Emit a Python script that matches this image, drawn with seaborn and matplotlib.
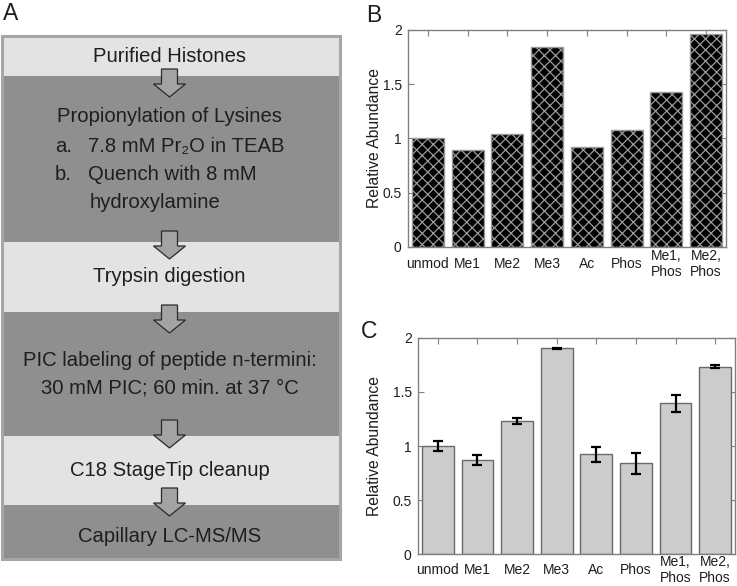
import numpy as np
import pandas as pd
import matplotlib
matplotlib.use("Agg")
import matplotlib.pyplot as plt
import seaborn as sns
from matplotlib.patches import Rectangle, Polygon

# ---------------- data ----------------
categories = ["unmod", "Me1", "Me2", "Me3", "Ac", "Phos", "Me1,\nPhos", "Me2,\nPhos"]
values_b = [1.00, 0.89, 1.04, 1.84, 0.92, 1.075, 1.425, 1.96]
values_c = [1.00, 0.868, 1.231, 1.902, 0.923, 0.840, 1.394, 1.732]
errors_c = [0.05, 0.048, 0.03, 0.006, 0.07, 0.095, 0.08, 0.012]
yticks = [0, 0.5, 1, 1.5, 2]
ytick_labels = ["0", "0.5", "1", "1.5", "2"]

flow_steps = ["Purified Histones", "Propionylation of Lysines", "Trypsin digestion",
              "PIC labeling of peptide n-termini:", "C18 StageTip cleanup", "Capillary LC-MS/MS"]

sns.set_style("ticks")
plt.rcParams["font.family"] = ["Liberation Sans", "DejaVu Sans"]
plt.rcParams["hatch.linewidth"] = 0.9

fig = plt.figure(figsize=(7.37, 5.86), dpi=100)

# ---------------- panel A (flowchart) ----------------
ax0 = fig.add_axes([0, 0, 1, 1])
ax0.set_xlim(0, 737)
ax0.set_ylim(586, 0)
ax0.axis("off")

LIGHT = "#e3e3e3"
DARK = "#8f8f8f"
band_edges = [36, 76, 242, 312, 436, 505, 559]
band_cols = [LIGHT, DARK, LIGHT, DARK, LIGHT, DARK]
arrow_tops = [69, 231, 305, 420, 488]
x0, x1 = 2, 340
for (t, b, c) in zip(band_edges[:-1], band_edges[1:], band_cols):
    ax0.add_patch(Rectangle((x0, t), x1 - x0, b - t, facecolor=c, edgecolor="none", zorder=1))
ax0.add_patch(Rectangle((x0, band_edges[0]), x1 - x0, band_edges[-1] - band_edges[0],
                        facecolor="none", edgecolor="#a6a6a6", lw=2.2, zorder=2))

cx = 169.5
for t in arrow_tops:
    pts = [(cx - 8, t), (cx + 8, t), (cx + 8, t + 15), (cx + 16, t + 15),
           (cx, t + 28), (cx - 16, t + 15), (cx - 8, t + 15)]
    ax0.add_patch(Polygon(pts, closed=True, facecolor="#a3a3a3", edgecolor="#2a2a2a",
                          lw=0.9, zorder=3))

tc = "#1e1e1e"
fs = 14.6
ax0.text(cx, 57, flow_steps[0], ha="center", va="center", fontsize=fs, color=tc, zorder=4)
ax0.text(cx, 117, flow_steps[1], ha="center", va="center", fontsize=fs, color=tc, zorder=4)
ax0.text(55, 147, "a.", ha="left", va="center", fontsize=fs, color=tc, zorder=4)
ax0.text(88, 147, "7.8 mM Pr\u2082O in TEAB", ha="left", va="center", fontsize=fs, color=tc, zorder=4)
ax0.text(55, 175, "b.", ha="left", va="center", fontsize=fs, color=tc, zorder=4)
ax0.text(88, 175, "Quench with 8 mM", ha="left", va="center", fontsize=fs, color=tc, zorder=4)
ax0.text(90, 202, "hydroxylamine", ha="left", va="center", fontsize=fs, color=tc, zorder=4)
ax0.text(cx, 277, flow_steps[2], ha="center", va="center", fontsize=fs, color=tc, zorder=4)
ax0.text(cx, 360, flow_steps[3], ha="center", va="center", fontsize=fs, color=tc, zorder=4)
ax0.text(cx, 388, "30 mM PIC; 60 min. at 37 \u00b0C", ha="center", va="center", fontsize=fs, color=tc, zorder=4)
ax0.text(cx, 470, flow_steps[4], ha="center", va="center", fontsize=fs, color=tc, zorder=4)
ax0.text(cx, 536, flow_steps[5], ha="center", va="center", fontsize=fs, color=tc, zorder=4)

ax0.text(3, 14, "A", ha="left", va="center", fontsize=16.5, color=tc)
ax0.text(366, 15, "B", ha="left", va="center", fontsize=16.5, color=tc)
ax0.text(361, 331, "C", ha="left", va="center", fontsize=16.5, color=tc)

df_b = pd.DataFrame({"cat": categories, "val": values_b})
df_c = pd.DataFrame({"cat": categories, "val": values_c, "err": errors_c})

SPINE = "#808080"


def style_axis(ax, label_x, label_pad_pts):
    ax.set_ylim(0, 2)
    ax.set_xlim(-0.5, len(categories) - 0.5)
    ax.set_yticks(yticks)
    ax.set_yticklabels(ytick_labels)
    ax.set_xticks(range(len(categories)))
    ax.set_xticklabels(categories, va="center", linespacing=1.2)
    ax.set_xlabel("")
    ax.set_ylabel("Relative Abundance", fontsize=11.3, color=tc)
    ax.yaxis.set_label_coords(label_x, 0.5)
    ax.tick_params(axis="both", direction="in", length=4, width=0.8, color=SPINE,
                   labelsize=10, labelcolor=tc, top=True, right=True, pad=4.5)
    ax.tick_params(axis="x", pad=label_pad_pts)
    for s in ax.spines.values():
        s.set_visible(True)
        s.set_color(SPINE)
        s.set_linewidth(1.0)


# ---------------- panel B ----------------
axB = fig.add_axes([408 / 737, 1 - 247 / 586, 318 / 737, 217 / 586])
sns.barplot(data=df_b, x="cat", y="val", ax=axB, color="black", saturation=1,
            width=0.8, edgecolor="#9a9a9a", linewidth=1.0, hatch="xxx")
style_axis(axB, (382 - 408) / 318, 12.0)

# ---------------- panel C ----------------
axC = fig.add_axes([418 / 737, 1 - 554.3 / 586, 317 / 737, 216.6 / 586])
sns.barplot(data=df_c, x="cat", y="val", ax=axC, color="#cccccc", saturation=1,
            width=0.8, edgecolor="#6a6a6a", linewidth=1.0, errorbar=None)
axC.errorbar(x=np.arange(len(categories)), y=df_c["val"], yerr=df_c["err"], fmt="none",
             ecolor="black", elinewidth=1.6, capsize=3.5, capthick=1.6, zorder=5)
style_axis(axC, (382 - 418) / 317, 11.5)

fig.savefig("out.png", dpi=100)
